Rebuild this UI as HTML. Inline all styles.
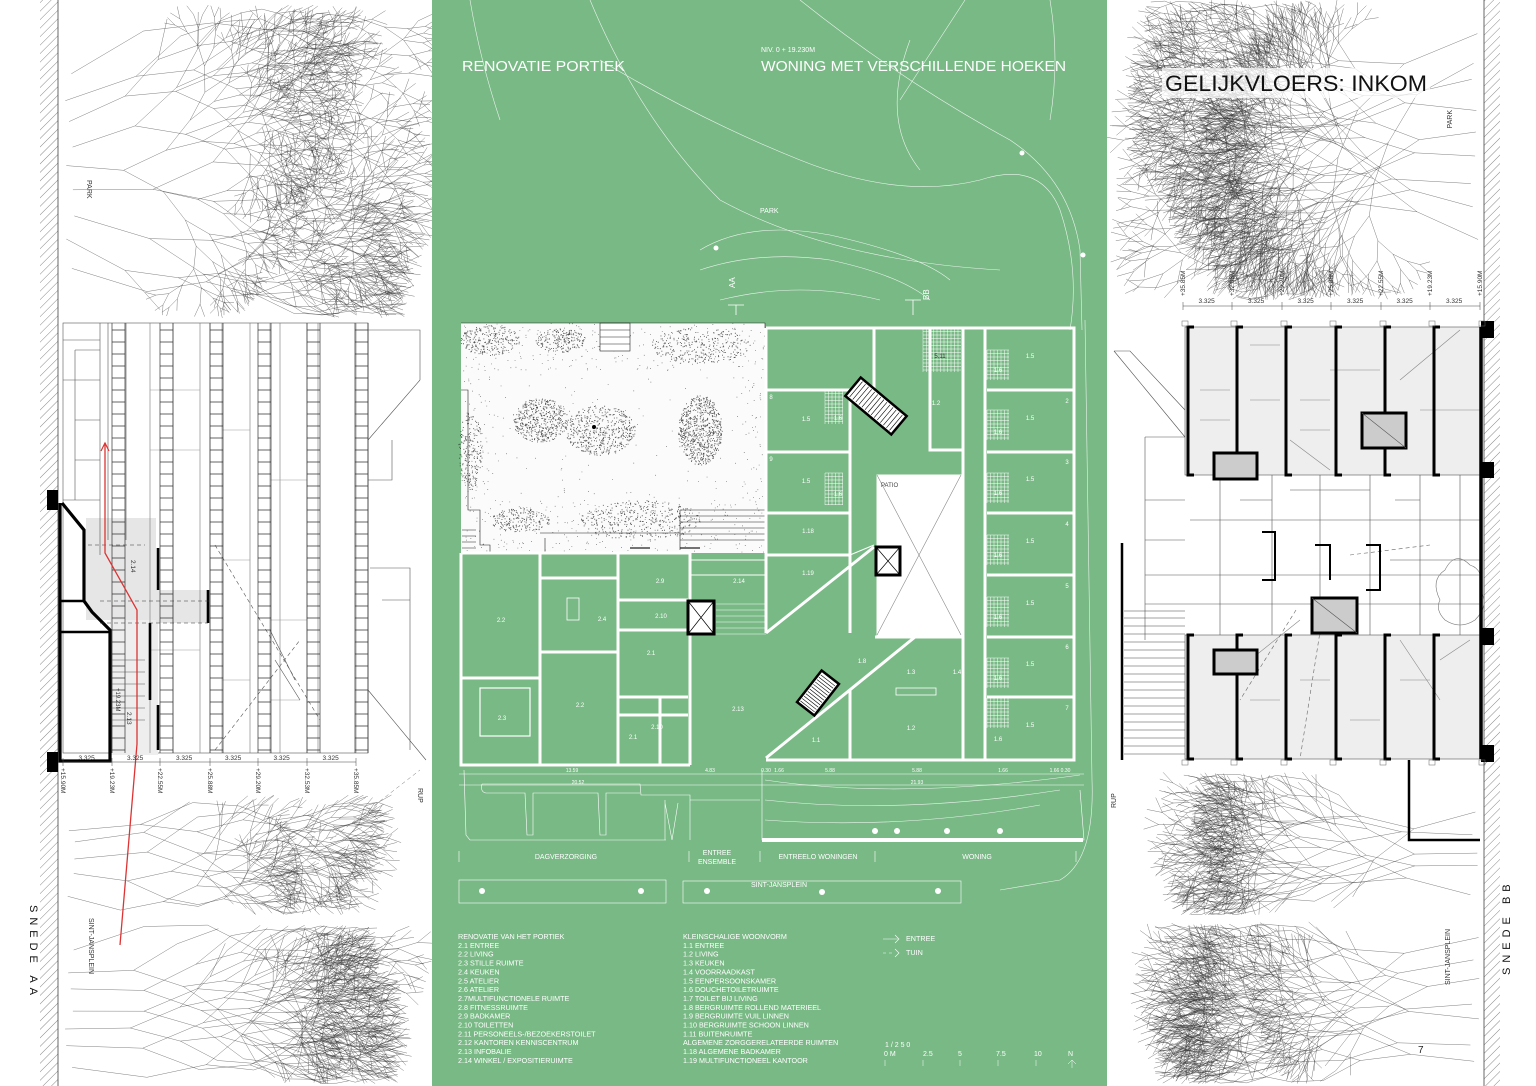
<!DOCTYPE html>
<html><head><meta charset="utf-8"><style>
html,body{margin:0;padding:0;background:#fff;width:1536px;height:1086px;overflow:hidden;}
svg{display:block;overflow:hidden;}
text{font-family:"Liberation Sans",Arial,sans-serif;}
</style></head><body>
<svg id="s" width="1536" height="1086" viewBox="0 0 1536 1086" xmlns="http://www.w3.org/2000/svg">
<defs>
<pattern id="hatch" width="6" height="6" patternUnits="userSpaceOnUse" patternTransform="rotate(45)">
<line x1="0" y1="0" x2="0" y2="6" stroke="#555" stroke-width="0.7"/></pattern>
</defs>
<rect width="1536" height="1086" fill="#fff"/>
<g id="trees" stroke="#333" stroke-width="0.45" fill="none" opacity="0.7"></g>
<rect x="40" y="0" width="18" height="1086" fill="url(#hatch)"/>
<line x1="58" y1="0" x2="58" y2="1086" stroke="#444" stroke-width="0.8"/>
<rect x="1484" y="0" width="16" height="1086" fill="url(#hatch)"/>
<line x1="1484" y1="0" x2="1484" y2="1086" stroke="#444" stroke-width="0.8"/>

<g id="leftel" stroke="#555" stroke-width="0.6" fill="none">
<rect x="63" y="323" width="305" height="430" fill="#fff"/>
<rect x="86" y="518" width="70" height="102" fill="#e6e6e6" stroke="none"/>
<rect x="110" y="620" width="48" height="135" fill="#eee" stroke="none"/>
<rect x="156" y="590" width="52" height="33" fill="#e6e6e6" stroke="none"/>
<path d="M368 330 L420 330 L420 380 M368 440 L420 380 M368 690 L426 760 M392 440 L392 480 L368 480 M370 568 L410 568 L410 750 M382 600 L410 600" />
<path d="M63 340 L100 340 M75 350 L100 350 M75 350 L75 500 M63 500 L100 500 M100 323 L100 555 M75 420 L100 420 M75 460 L100 460 M63 380 L100 380"/>
<path d="M108 323 L108 540 M126 323 L126 540" />
<path d="M173 323 L173 753 M210 323 L210 753 M222 323 L222 753 M270 323 L270 753 M307 323 L307 753 M318 323 L318 753 M356 323 L356 753 M368 323 L368 753 M150 323 L150 753 M200 323 L200 753 M250 323 L250 753 M280 323 L280 753" stroke="#777"/>
<path d="M150 390 L200 390 M150 450 L200 450 M222 430 L250 430 M270 480 L307 480 M222 560 L250 560 M270 620 L307 620 M150 650 L200 650 M222 680 L250 680 M270 700 L300 700" stroke="#999"/>
<path d="M215 545 L320 720 M215 750 L300 640" stroke-dasharray="4 3"/>
<path d="M270 630 L295 680 M275 660 L300 700" />
</g>
<g id="ladders" stroke="#333" stroke-width="0.7" fill="none"></g>
<g stroke="#000" fill="none">
<path d="M60 503 L60 761 L110 761 L110 630 L92 612 L84 601 L84 530 L62 503" stroke-width="3.2"/>
<path d="M60 601 L84 601 M60 632 L110 632" stroke-width="2.5"/>
<path d="M158 548 L158 590 M208 590 L208 623 M150 623 L150 700 M158 705 L158 750" stroke-width="2.6"/>
</g>
<path d="M47 490 L58 490 L58 510 L47 510 Z M47 752 L58 752 L58 772 L47 772 Z" fill="#000"/>
<path d="M88 545 L145 545 M100 601 L210 601 M100 623 L208 623" stroke="#333" stroke-width="0.6" stroke-dasharray="4 3" fill="none"/>
<g stroke="#555" stroke-width="0.5" fill="none"><path d="M112 660 L145 660 M112 672 L145 672 M112 684 L145 684 M112 696 L145 696 M112 708 L145 708 M112 720 L145 720"/></g>
<text x="0" y="0" font-size="6.5" fill="#333" transform="translate(131,560) rotate(90)">2.14</text>
<text x="0" y="0" font-size="6.5" fill="#333" transform="translate(127,712) rotate(90)">2.13</text>
<text x="0" y="0" font-size="6" fill="#333" transform="translate(116,688) rotate(90)">+19.23M</text>
<path d="M120 945 L137 744 L137 610 L105 553 L105 443" stroke="#d33" stroke-width="1.3" fill="none"/>
<path d="M101 451 L105 443 L109 451" stroke="#d33" stroke-width="1.2" fill="none"/>
<g stroke="#444" stroke-width="0.5"><line x1="63" y1="762" x2="356" y2="762"/></g>
<g id="ldim" font-size="6.5" fill="#333"></g>
<text font-size="7" fill="#333" transform="translate(87,180) rotate(90)">PARK</text>
<text font-size="7" fill="#333" transform="translate(89,918) rotate(90)">SINT-JANSPLEIN</text>
<text font-size="7" fill="#333" transform="translate(418,788) rotate(90)">RUP</text>
<text font-size="11" fill="#111" letter-spacing="5" transform="translate(30,905) rotate(90)">SNEDE AA</text>
<path d="M330 840 L420 770" stroke="#777" stroke-width="0.5" stroke-dasharray="4 3"/>

<g stroke="#555" stroke-width="0.6" fill="none">
<rect x="1185" y="327" width="296" height="148" fill="#eee"/>
<rect x="1185" y="635" width="296" height="124" fill="#eee"/>
<path d="M1114 351 L1185 437 M1114 351 L1130 351 L1185 410 M1145 437 L1185 437 M1145 437 L1145 640 M1145 500 L1185 500 M1145 540 L1185 540 M1145 575 L1480 575 M1145 604 L1480 604 M1220 475 L1220 635 M1272 475 L1272 635 M1320 475 L1320 635 M1370 475 L1370 635 M1420 475 L1420 635 M1460 475 L1460 635 M1190 520 L1480 520 M1290 490 L1370 490 M1240 500 L1272 500 M1395 500 L1420 500 M1390 560 L1480 560"/>
<path d="M1200 390 L1230 390 M1200 420 L1230 420 M1250 345 L1280 345 M1250 400 L1280 400 M1300 400 L1330 400 M1300 430 L1330 430 M1330 370 L1380 370 M1420 410 L1480 410 M1300 680 L1330 680 M1350 720 L1380 720 M1250 700 L1280 700 M1400 680 L1430 680 M1440 660 L1470 640" stroke="#888"/>
<path d="M1290 440 L1330 470 M1400 380 L1460 330 M1250 660 L1300 620 M1400 640 L1440 700" stroke="#888"/>
<path d="M1350 555 L1430 545 M1296 610 L1240 700 M1325 600 L1300 759" stroke-dasharray="4 3" stroke="#666"/>
<path d="M1440 600 q-10 -20 5 -30 q10 -20 25 -5 q15 5 10 25 q10 15 -5 30 q-15 10 -30 0 q-10 -10 -5 -20Z" stroke="#777"/>
</g>
<g id="rstairs" stroke="#444" stroke-width="0.6"></g>
<g id="brackets" stroke="#000" stroke-width="3" fill="none"></g>
<g stroke="#000" stroke-width="3" fill="#ccc">
<rect x="1362" y="413" width="44" height="35"/>
<rect x="1214" y="453" width="43" height="26"/>
<rect x="1312" y="598" width="45" height="35"/>
<rect x="1214" y="650" width="43" height="24"/>
</g>
<path d="M1362 413 L1406 448 M1312 598 L1357 633" stroke="#555" stroke-width="0.6"/>
<path d="M1262 532 L1275 532 L1275 580 L1262 580 M1315 545 L1330 545 L1330 580 M1366 545 L1380 545 L1380 590 L1366 590" stroke="#000" stroke-width="2" fill="none"/>
<path d="M1481 327 L1481 759" stroke="#000" stroke-width="3.5"/>
<path d="M1481 321 L1494 321 L1494 338 L1481 338Z M1481 462 L1494 462 L1494 478 L1481 478Z M1481 628 L1494 628 L1494 645 L1481 645Z M1481 745 L1494 745 L1494 762 L1481 762Z" fill="#000"/>
<path d="M1122 543 L1122 760" stroke="#000" stroke-width="2.5"/>
<path d="M1409 760 L1409 840 L1480 840" stroke="#000" stroke-width="2.5" fill="none"/>
<line x1="1183" y1="306" x2="1480" y2="306" stroke="#444" stroke-width="0.5"/>
<g id="rdim" font-size="6.5" fill="#333"></g>
<text font-size="7" fill="#333" transform="translate(1452,110) rotate(-90)" text-anchor="end" >PARK</text>
<text font-size="7" fill="#333" transform="translate(1450,985) rotate(-90)">SINT-JANSPLEIN</text>
<text font-size="7" fill="#333" transform="translate(1116,808) rotate(-90)">RUP</text>
<text font-size="11" fill="#111" letter-spacing="5" transform="translate(1510,975) rotate(-90)">SNEDE BB</text>
<text x="1418" y="1053" font-size="10" fill="#222">7</text>
<rect x="1162" y="68" width="268" height="30" fill="#fff" opacity="0.75"/>
<text x="1165" y="91" font-size="22" fill="#111" textLength="262" lengthAdjust="spacingAndGlyphs">GELIJKVLOERS: INKOM</text>

<rect x="432" y="0" width="675" height="1086" fill="#79b985"/>
<g id="greenDeco" stroke="#fff" stroke-width="0.6" fill="none" opacity="0.85">
<path d="M470 0 Q480 60 500 120 M590 0 Q640 120 720 200 Q830 260 1000 270 M800 0 Q900 80 1010 140 Q1070 180 1080 250 L1082 330"/>
<path d="M600 60 Q700 120 800 160 Q900 200 980 180 Q1040 160 1060 210 Q1080 270 1070 330"/>
<path d="M700 250 Q750 220 830 235 Q920 255 950 280 M700 270 Q760 250 830 260 Q900 275 930 300 M720 300 Q800 280 880 300 M910 40 Q880 120 920 170"/>
<path d="M965 0 L900 100 M1050 0 Q1060 60 1050 120"/>
<path d="M1085 320 L1092 780 Q1095 860 1060 880 L1000 890"/>
<path d="M765 780 Q900 800 1080 775 M765 800 Q900 815 1060 790 M765 820 Q900 830 1040 805"/>
</g>
<g fill="#fff">
<circle cx="716" cy="248" r="2.5"/><circle cx="1022" cy="153" r="2.5"/><circle cx="1083" cy="255" r="2.5"/>
<circle cx="875" cy="831" r="3"/><circle cx="897" cy="831" r="3"/><circle cx="947" cy="831" r="3"/><circle cx="1000" cy="831" r="3"/>
<circle cx="482" cy="891" r="3"/><circle cx="641" cy="891" r="3"/><circle cx="707" cy="891" r="3"/><circle cx="822" cy="892" r="3"/><circle cx="938" cy="891" r="3"/>
</g>
<text x="462" y="71" font-size="15" fill="#fff" textLength="163" lengthAdjust="spacingAndGlyphs">RENOVATIE PORTIEK</text>
<text x="761" y="52" font-size="7" fill="#fff">NIV. 0   + 19.230M</text>
<text x="761" y="71" font-size="15" fill="#fff" textLength="305" lengthAdjust="spacingAndGlyphs">WONING MET VERSCHILLENDE HOEKEN</text>
<text x="760" y="213" font-size="7" fill="#fff">PARK</text>
<text font-size="8" fill="#fff" transform="translate(735,288) rotate(-90)">AA</text>
<text font-size="8" fill="#fff" transform="translate(929,300) rotate(-90)">BB</text>
<path d="M728 305 L744 305 M736 305 L736 315 M913 300 L913 315 M905 300 L921 300" stroke="#fff" stroke-width="0.8"/>

<rect x="461" y="323" width="304" height="230" fill="#fbfbfb"/>
<g id="stip" fill="#222"></g>
<g stroke="#222" stroke-width="0.6" fill="none">
<rect x="600" y="323" width="30" height="28" fill="#fff"/>
<path d="M600 330 L630 330 M600 337 L630 337 M600 344 L630 344 M680 510 L765 510 M680 516 L765 516 M680 522 L765 522 M680 528 L765 528 M680 534 L765 534 M680 540 L765 540 M680 510 L680 550 M540 533 L680 533 L680 550 M545 538 L545 553 M461 390 L468 390 L468 510 L480 510 L480 545 L490 545 L490 553 M461 323 L765 323 L765 553"/>
<path d="M462 530 L476 530 M462 536 L476 536 M462 542 L476 542 M462 548 L476 548"/>
<path d="M630 548 L650 548 M680 548 L700 548" stroke-width="1.2"/>
</g>
<circle cx="594" cy="427" r="2" fill="#000"/>

<g stroke="#fff" stroke-width="3" fill="none">
<path d="M461 553 L461 765 L690 765 M461 553 L690 553"/>
<path d="M540 553 L540 765 M618 553 L618 765 M690 553 L690 765 M540 578 L618 578 M540 652 L618 652 M461 678 L540 678 M618 600 L688 600 M618 630 L688 630 M618 697 L688 697 M618 715 L688 715 M660 697 L660 765"/>
<path d="M766 328 L1074 328 L1074 760 L766 760 M766 328 L766 633"/>
<path d="M766 390 L850 390 M766 452 L850 452 M766 513 L850 513 M766 555 L850 555 M850 390 L850 633 M850 690 L850 760"/>
<path d="M963 328 L963 760 M985 328 L985 760 M987 390 L1074 390 M987 452 L1074 452 M987 513 L1074 513 M987 575 L1074 575 M987 637 L1074 637 M987 697 L1074 697"/>
<path d="M766 633 L874 547 M766 758 L915 637 M875 637 L963 637"/>
<path d="M874 328 L874 390 M930 328 L930 450 L963 450"/>
</g>
<g stroke="#fff" stroke-width="1" fill="none">
<path d="M691 560 L766 560 M691 575 L766 575"/>
<path d="M766 553 L766 633 M850 555 L874 545 M915 637 L963 637 L963 640"/>
<rect x="877" y="475" width="84" height="160" fill="#fff" stroke="#fff"/>
</g>
<path d="M877 475 L961 635 M961 475 L877 635" stroke="#888" stroke-width="0.6"/>
<text x="881" y="487" font-size="6" fill="#444">PATIO</text>
<g id="grids" stroke="#fff" stroke-width="0.5" fill="none"></g>
<g stroke="#000" stroke-width="3" fill="#fff">
<rect x="688" y="601" width="26" height="33"/>
<rect x="876" y="547" width="24" height="28"/>
</g>
<path d="M688 601 L714 634 M714 601 L688 634 M876 547 L900 575 M900 547 L876 575" stroke="#000" stroke-width="0.7"/>
<g transform="translate(876,406) rotate(40)"><rect x="-30" y="-12" width="60" height="24" fill="#fff" stroke="#000" stroke-width="2.5"/><g id="st1" stroke="#000" stroke-width="0.6"></g></g>
<g transform="translate(818,693) rotate(-52)"><rect x="-20" y="-11" width="40" height="22" fill="#fff" stroke="#000" stroke-width="2.5"/><g id="st2" stroke="#000" stroke-width="0.6"></g></g>
<g stroke="#fff" stroke-width="0.6"><path d="M716 610 L766 610 M716 616 L766 616 M716 622 L766 622 M716 628 L766 628 M716 634 L766 634 M716 604 L766 604"/></g>

<g font-size="6" fill="#fff" text-anchor="middle">
<text x="501" y="622">2.2</text><text x="602" y="621">2.4</text><text x="660" y="583">2.9</text><text x="661" y="618">2.10</text><text x="651" y="655">2.1</text><text x="580" y="707">2.2</text><text x="502" y="720">2.3</text><text x="657" y="729">2.10</text><text x="633" y="739">2.1</text><text x="739" y="583">2.14</text><text x="738" y="711">2.13</text>
<text x="808" y="533">1.18</text><text x="808" y="575">1.19</text><text x="806" y="421">1.5</text><text x="806" y="483">1.5</text><text x="838" y="420">1.6</text><text x="838" y="496">1.6</text><text x="771" y="399">8</text><text x="771" y="461">9</text>
<text x="936" y="405">1.2</text><text x="940" y="358" fill="#333">5.11</text><text x="862" y="663">1.8</text><text x="911" y="674">1.3</text><text x="957" y="674">1.4</text><text x="911" y="730">1.2</text><text x="816" y="742">1.1</text>
</g>
<g id="rlabels" font-size="6" fill="#fff" text-anchor="middle"></g>
<rect x="896" y="688" width="40" height="7" fill="none" stroke="#fff" stroke-width="0.8"/>
<rect x="480" y="688" width="50" height="48" fill="none" stroke="#fff" stroke-width="1.2"/>
<rect x="567" y="598" width="12" height="22" fill="none" stroke="#fff" stroke-width="0.8"/>
<g stroke="#fff" stroke-width="0.6" fill="none">
<line x1="459" y1="774" x2="1084" y2="774"/><line x1="459" y1="785" x2="1084" y2="785"/>
<path d="M464 770 L466 835 L470 840 L666 840 M482 784 L640 784 L641 795 L690 795 L690 800 L760 800 M482 784 Q480 792 486 793 L525 793 L527 835 L533 835 L533 793 L598 793 L600 835 L606 835 L606 793 L640 793 M665 800 L665 840 M690 800 L690 840 M665 803 L672 840 L678 803 M762 770 L762 840 L1084 840 L1080 790"/>
<rect x="459" y="880" width="207" height="23"/><rect x="683" y="881" width="278" height="22"/>
<path d="M459 851 L459 862 M689 851 L689 862 M760 851 L760 862 M875 851 L875 862 M1076 851 L1076 862"/>
</g>
<rect x="762" y="838" width="321" height="4" fill="#fff"/>
<g font-size="5" fill="#fff" text-anchor="middle"><text x="572" y="772">13.59</text><text x="710" y="772">4.83</text><text x="766" y="772">0.30</text><text x="779" y="772">1.66</text><text x="830" y="772">5.88</text><text x="917" y="772">5.88</text><text x="1003" y="772">1.66</text><text x="1060" y="772">1.66 0.30</text><text x="578" y="784">20.52</text><text x="917" y="784">21.93</text></g>
<g font-size="7" fill="#fff" text-anchor="middle">
<text x="566" y="859">DAGVERZORGING</text><text x="717" y="855">ENTREE</text><text x="717" y="864">ENSEMBLE</text><text x="818" y="859">ENTREELO WONINGEN</text><text x="977" y="859">WONING</text><text x="779" y="887">SINT-JANSPLEIN</text>
</g>
<g font-size="7.2" fill="#fff" id="legend"></g>
<path d="M883 939 L898 939 M895 935 L899 939 L895 943 M883 953 L886 953 M889 953 L892 953 M895 949 L899 953 L895 957" stroke="#fff" stroke-width="0.6" fill="none"/>
<text x="906" y="941" font-size="7.2" fill="#fff">ENTREE</text><text x="906" y="955" font-size="7.2" fill="#fff">TUIN</text>
<text x="885" y="1047" font-size="7" fill="#fff">1 / 2 5  0</text>
<g font-size="7" fill="#fff"><text x="884" y="1056">0 M</text><text x="923" y="1056">2.5</text><text x="958" y="1056">5</text><text x="996" y="1056">7.5</text><text x="1034" y="1056">10</text><text x="1068" y="1056">N</text></g>
<path d="M885 1060 L885 1066 M923 1060 L923 1066 M960 1060 L960 1066 M998 1060 L998 1066 M1036 1060 L1036 1066 M1072 1060 L1072 1068 M1068 1064 L1072 1060 L1076 1064" stroke="#fff" stroke-width="0.5" fill="none"/>
</svg>
<script>
(function(){
var NS="http://www.w3.org/2000/svg";
function el(p,t,a,txt){var e=document.createElementNS(NS,t);for(var k in a)e.setAttribute(k,a[k]);if(txt!=null)e.textContent=txt;p.appendChild(e);return e;}
var seed=12345;function R(){seed=(seed*1103515245+12345)&0x7fffffff;return seed/0x7fffffff;}
var tg=document.getElementById('trees');var d=[];var Y0=0,Y1=1086;
function br(x,y,a,l,dep){if(dep==0||l<1.5)return;var x2=x+Math.cos(a)*l,y2=y+Math.sin(a)*l;if(y2<Y0||y2>Y1||x2<60||x2>1482)return;d.push('M'+x.toFixed(1)+' '+y.toFixed(1)+'L'+x2.toFixed(1)+' '+y2.toFixed(1));
br(x2,y2,a+0.18+R()*0.35,l*(0.76+R()*0.1),dep-1);br(x2,y2,a-0.18-R()*0.35,l*(0.76+R()*0.1),dep-1);}
function region(rx,y0,y1,dir,count,len,dep,spread,b0,b1){Y0=b0;Y1=b1;for(var i=0;i<count;i++){var y=y0+(y1-y0)*(i+0.5)/count+(R()-0.5)*10;var a=dir+(R()-0.5)*spread*0.5+((y-(y0+y1)/2)/(y1-y0))*spread;br(rx+(R()-0.5)*10,y,a,len*(0.8+R()*0.4),dep);}}
region(70,60,280,0,9,70,9,1.0,5,318);
region(1475,20,250,Math.PI,9,70,9,1.0,0,300);
region(70,820,900,0,5,65,9,0.5,795,915);region(70,945,1075,0,7,65,9,0.6,925,1084);
region(1475,800,900,Math.PI,5,65,9,0.5,772,915);region(1475,930,1075,Math.PI,7,65,9,0.6,922,1084);
region(440,120,240,0,3,10,6,1.2,0,1086);region(1100,110,230,Math.PI,3,10,6,1.2,0,1086);region(1100,480,560,Math.PI,2,8,6,1.2,0,1086);
el(tg,'path',{d:d.join('')});
var lg=document.getElementById('ladders');var xs=[112,160,210,258,307,355];var ld='';
xs.forEach(function(x){ld+='M'+x+' 323L'+x+' 753M'+(x+13)+' 323L'+(x+13)+' 753';for(var y=330;y<752;y+=12)ld+='M'+x+' '+y+'L'+(x+13)+' '+y;});
el(lg,'path',{d:ld});
var ldg=document.getElementById('ldim');var tx=[63,112,160,210,258,307,356];var lv=['+15.90M','+19.23M','+22.55M','+25.88M','+29.20M','+32.53M','+35.85M'];
for(var i=0;i<6;i++)el(ldg,'text',{x:(tx[i]+tx[i+1])/2-9,y:760},'3.325');
tx.forEach(function(x,i){el(ldg,'text',{transform:'translate('+(x-2)+',768) rotate(90)'},lv[i]);el(ldg,'line',{x1:x,y1:758,x2:x,y2:766,stroke:'#444','stroke-width':0.5});});
var rdg=document.getElementById('rdim');var rx=[1183,1232,1282,1331,1381,1430,1480];var rv=['+35.85M','+32.53M','+29.20M','+25.88M','+22.55M','+19.23M','+15.90M'];
for(var i=0;i<6;i++)el(rdg,'text',{x:(rx[i]+rx[i+1])/2-9,y:303},'3.325');
rx.forEach(function(x,i){el(rdg,'text',{transform:'translate('+(x+2)+',296) rotate(-90)'},rv[i]);el(rdg,'line',{x1:x,y1:302,x2:x,y2:310,stroke:'#444','stroke-width':0.5});
el(rdg,'rect',{x:x-1,y:321,width:6,height:5,fill:'none',stroke:'#666','stroke-width':0.5});el(rdg,'rect',{x:x-1,y:760,width:6,height:5,fill:'none',stroke:'#666','stroke-width':0.5});});
var bg=document.getElementById('brackets');var bd='';[1188,1237,1286,1336,1385,1434].forEach(function(x){
[[327,475],[635,759]].forEach(function(r){bd+='M'+(x+6)+' '+r[0]+'L'+x+' '+r[0]+'L'+x+' '+r[1]+'L'+(x+6)+' '+r[1];});});
el(bg,'path',{d:bd});
var rs=document.getElementById('rstairs');var sd='M1124 611L1185 611';for(var y=618;y<760;y+=8)sd+='M1124 '+y+'L1185 '+y;el(rs,'path',{d:sd});
var sg=document.getElementById('stip');var blobs=[[540,420,28,22,500],[600,430,35,25,500],[700,430,22,35,700],[490,340,30,15,250],[700,345,50,18,300],[470,450,12,40,200],[640,520,60,20,400],[520,520,30,12,200],[560,340,25,12,200]];
var sp='';blobs.forEach(function(b){for(var i=0;i<b[4];i++){var a=R()*6.283,r=Math.sqrt(R());var x=b[0]+Math.cos(a)*r*b[2],y=b[1]+Math.sin(a)*r*b[3];sp+='M'+x.toFixed(1)+' '+y.toFixed(1)+'h0.9v0.9h-0.9z';}});
for(var i=0;i<1200;i++){var x=461+R()*304,y=323+R()*230;if(x>490&&x<740&&y>370&&y<500&&R()<0.8)continue;sp+='M'+x.toFixed(1)+' '+y.toFixed(1)+'h0.7v0.7h-0.7z';}
el(sg,'path',{d:sp,opacity:0.8});
var gg=document.getElementById('grids');var gd='';
function grid(x,y,w,h,s){for(var i=0;i<=w;i+=s)gd+='M'+(x+i)+' '+y+'v'+h;for(var j=0;j<=h;j+=s)gd+='M'+x+' '+(y+j)+'h'+w;}
[[987,350],[987,410],[987,473],[987,535],[987,597],[987,658],[987,698]].forEach(function(p){grid(p[0],p[1],22,30,3.5);});
grid(825,390,18,34,3.5);grid(825,473,18,32,3.5);grid(923,328,38,44,3.5);
el(gg,'path',{d:gd});
var rl=document.getElementById('rlabels');[358,420,481,543,605,666,727].forEach(function(y,i){el(rl,'text',{x:1030,y:y},'1.5');el(rl,'text',{x:998,y:y+14},'1.6');if(i>0)el(rl,'text',{x:1067,y:y-17},String(i+1));});
var s1='';for(var x=-26;x<28;x+=4)s1+='M'+x+' -10V10';el(document.getElementById('st1'),'path',{d:s1});
var s2='';for(var x=-17;x<18;x+=3)s2+='M'+x+' -9V9';el(document.getElementById('st2'),'path',{d:s2});
var lgd=document.getElementById('legend');
var c1=['RENOVATIE VAN HET PORTIEK','2.1 ENTREE','2.2 LIVING','2.3 STILLE RUIMTE','2.4 KEUKEN','2.5 ATELIER','2.6 ATELIER','2.7MULTIFUNCTIONELE RUIMTE','2.8 FITNESSRUIMTE','2.9 BADKAMER','2.10 TOILETTEN','2.11 PERSONEELS-/BEZOEKERSTOILET','2.12 KANTOREN KENNISCENTRUM','2.13 INFOBALIE','2.14 WINKEL / EXPOSITIERUIMTE'];
var c2=['KLEINSCHALIGE WOONVORM','1.1 ENTREE','1.2 LIVING','1.3 KEUKEN','1.4 VOORRAADKAST','1.5 EENPERSOONSKAMER','1.6 DOUCHETOILETRUIMTE','1.7 TOILET BIJ LIVING','1.8 BERGRUIMTE ROLLEND MATERIEEL','1.9 BERGRUIMTE VUIL LINNEN','1.10 BERGRUIMTE SCHOON LINNEN','1.11 BUITENRUIMTE','ALGEMENE ZORGGERELATEERDE RUIMTEN','1.18 ALGEMENE BADKAMER','1.19 MULTIFUNCTIONEEL KANTOOR'];
c1.forEach(function(t,i){el(lgd,'text',{x:458,y:939+i*8.85},t);});
c2.forEach(function(t,i){el(lgd,'text',{x:683,y:939+i*8.85},t);});
})();
</script>
</body></html>
